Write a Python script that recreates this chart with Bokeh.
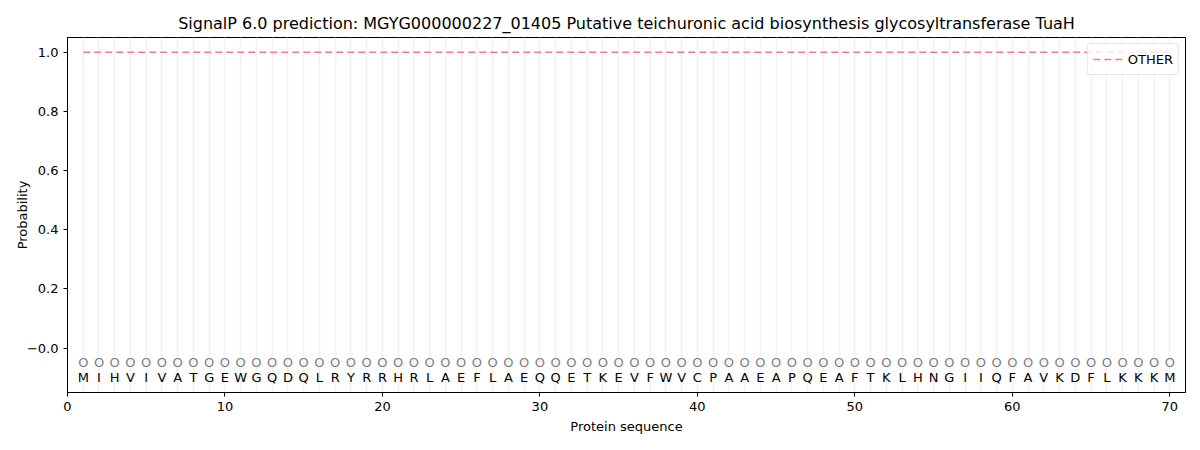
from bokeh.plotting import figure
from bokeh.models import ColumnDataSource, FixedTicker, Legend, LegendItem, Range1d
from bokeh.core.properties import value
from bokeh.embed import file_html
from bokeh.resources import INLINE

sequence = list("MIHVIVATGEWGQDQLRYRRHRLAEFLAEQQETKEVFWVCPAAEAPQEAFTKLHNGIIQFAVKDFLKKKM")
positions = list(range(1, len(sequence) + 1))
prob_other = [1.0] * len(sequence)
pred_labels = ["O"] * len(sequence)
marker_y = [-0.05] * len(sequence)
letter_y = [-0.1] * len(sequence)

title = "SignalP 6.0 prediction: MGYG000000227_01405 Putative teichuronic acid biosynthesis glycosyltransferase TuaH"
y_ticks = [0.0, 0.2, 0.4, 0.6, 0.8, 1.0]
y_tick_labels = ["\u22120.0", "0.2", "0.4", "0.6", "0.8", "1.0"]
x_ticks = [0, 10, 20, 30, 40, 50, 60, 70]

FONT = "DejaVu Sans"

p = figure(width=1200, height=450, output_backend="svg", toolbar_location=None,
           x_range=Range1d(0, 71), y_range=Range1d(-0.15, 1.05),
           min_border_left=67, min_border_right=15, min_border_top=37, min_border_bottom=58)

p.title.text = title
p.title.align = "center"
p.title.text_font = FONT
p.title.text_font_size = "16px"
p.title.text_font_style = "normal"
p.title.text_color = "black"

p.outline_line_color = "black"
p.outline_line_width = 1

p.xgrid.ticker = FixedTicker(ticks=positions)
p.xgrid.grid_line_color = "#f2f2f2"
p.xgrid.grid_line_width = 1.6
p.ygrid.grid_line_color = None

p.xaxis.ticker = FixedTicker(ticks=x_ticks)
p.yaxis.ticker = FixedTicker(ticks=y_ticks)
p.yaxis.major_label_overrides = {t: l for t, l in zip(y_ticks, y_tick_labels)}
for ax in (p.xaxis[0], p.yaxis[0]):
    ax.major_label_text_font = FONT
    ax.major_label_text_font_size = "13px"
    ax.major_label_text_color = "black"
    ax.axis_label_text_font = FONT
    ax.axis_label_text_font_size = "13px"
    ax.axis_label_text_font_style = "normal"
    ax.axis_label_text_color = "black"
    ax.minor_tick_line_color = None
    ax.major_tick_in = 0
    ax.major_tick_out = 4
    ax.major_tick_line_color = "black"
    ax.axis_line_color = "black"
p.xaxis.axis_label = "Protein sequence"
p.yaxis.axis_label = "Probability"
p.yaxis.axis_label_standoff = -6

src = ColumnDataSource(dict(x=positions, p=prob_other, lab=pred_labels, aa=sequence,
                            my=marker_y, ly=letter_y))

line = p.line("x", "p", source=src, line_color="#f08080", line_width=1.6, line_dash="7 4")

p.text("x", "my", text="lab", source=src, text_align="center", text_baseline="middle",
       text_font=value(FONT), text_font_size="13px", text_color="#808080")
p.text("x", "ly", text="aa", source=src, text_align="center", text_baseline="middle",
       text_font=value(FONT), text_font_size="13px", text_color="black")

legend = Legend(items=[LegendItem(label="OTHER", renderers=[line])], location="top_right")
legend.label_text_font = FONT
legend.label_text_font_size = "13px"
legend.label_text_color = "black"
legend.border_line_color = "#d0d0d0"
legend.border_radius = 3
legend.background_fill_alpha = 0.8
legend.margin = 6
legend.padding = 5
legend.spacing = 0
legend.glyph_width = 30
p.add_layout(legend)

open("out.html", "w").write(file_html(p, INLINE))
